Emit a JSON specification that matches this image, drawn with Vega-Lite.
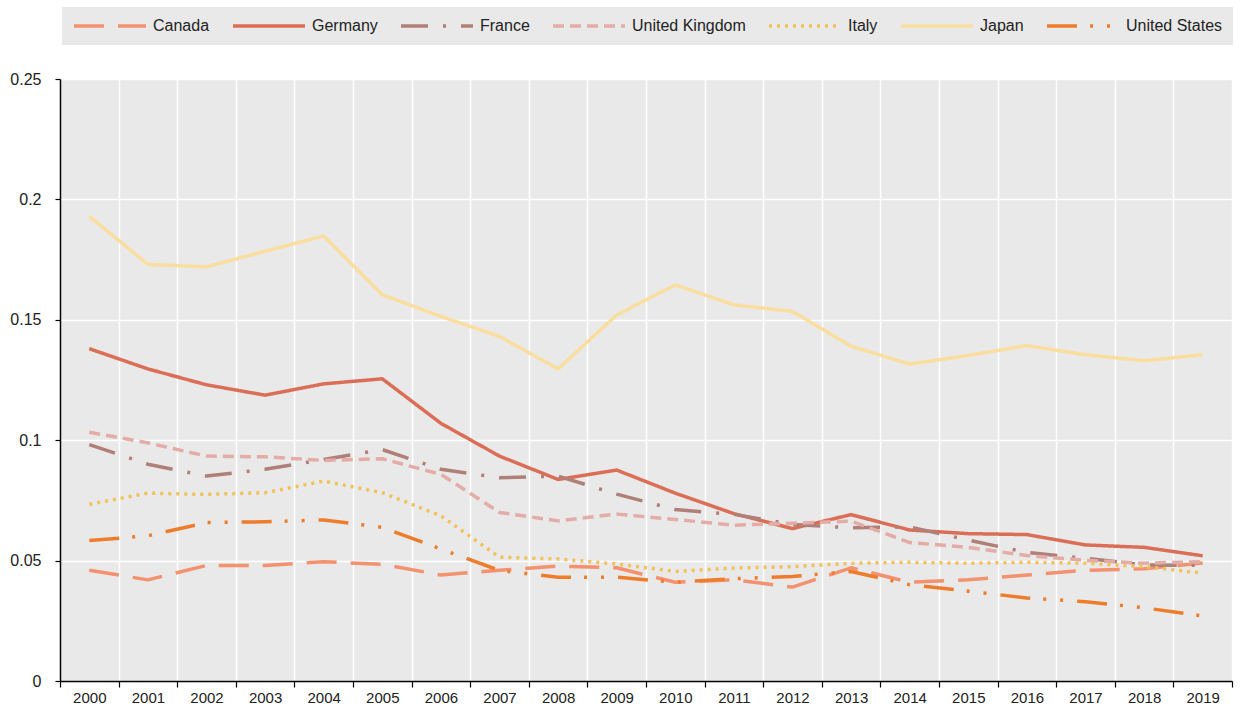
{
  "$schema": "https://vega.github.io/schema/vega-lite/v6.json",
  "width": 1172,
  "height": 602,
  "autosize": "none",
  "padding": {"left": 60, "top": 79, "right": 10, "bottom": 29},
  "background": "white",
  "config": {
    "view": {"fill": "#e9e9e9", "stroke": null},
    "font": "Liberation Sans",
    "axis": {"labelFont": "Liberation Sans", "labelColor": "#222222", "labelFontSize": 15, "gridColor": "#ffffff", "gridWidth": 1.5, "domainColor": "#000000", "domainWidth": 1.5, "tickColor": "#000000", "tickWidth": 1.2, "title": null}
  },
  "data": {"values": [
    {"year":"2000","country":"Canada","value":0.046},{"year":"2001","country":"Canada","value":0.042},{"year":"2002","country":"Canada","value":0.048},{"year":"2003","country":"Canada","value":0.048},{"year":"2004","country":"Canada","value":0.0495},{"year":"2005","country":"Canada","value":0.0485},{"year":"2006","country":"Canada","value":0.044},{"year":"2007","country":"Canada","value":0.046},{"year":"2008","country":"Canada","value":0.0477},{"year":"2009","country":"Canada","value":0.047},{"year":"2010","country":"Canada","value":0.041},{"year":"2011","country":"Canada","value":0.042},{"year":"2012","country":"Canada","value":0.039},{"year":"2013","country":"Canada","value":0.047},{"year":"2014","country":"Canada","value":0.041},{"year":"2015","country":"Canada","value":0.042},{"year":"2016","country":"Canada","value":0.044},{"year":"2017","country":"Canada","value":0.046},{"year":"2018","country":"Canada","value":0.0466},{"year":"2019","country":"Canada","value":0.049},
    {"year":"2000","country":"Germany","value":0.138},{"year":"2001","country":"Germany","value":0.1296},{"year":"2002","country":"Germany","value":0.123},{"year":"2003","country":"Germany","value":0.1187},{"year":"2004","country":"Germany","value":0.1234},{"year":"2005","country":"Germany","value":0.1255},{"year":"2006","country":"Germany","value":0.107},{"year":"2007","country":"Germany","value":0.0934},{"year":"2008","country":"Germany","value":0.0837},{"year":"2009","country":"Germany","value":0.0876},{"year":"2010","country":"Germany","value":0.078},{"year":"2011","country":"Germany","value":0.0695},{"year":"2012","country":"Germany","value":0.0633},{"year":"2013","country":"Germany","value":0.0691},{"year":"2014","country":"Germany","value":0.0627},{"year":"2015","country":"Germany","value":0.0612},{"year":"2016","country":"Germany","value":0.0608},{"year":"2017","country":"Germany","value":0.0565},{"year":"2018","country":"Germany","value":0.0555},{"year":"2019","country":"Germany","value":0.052},
    {"year":"2000","country":"France","value":0.0982},{"year":"2001","country":"France","value":0.09},{"year":"2002","country":"France","value":0.0851},{"year":"2003","country":"France","value":0.0879},{"year":"2004","country":"France","value":0.092},{"year":"2005","country":"France","value":0.0961},{"year":"2006","country":"France","value":0.0879},{"year":"2007","country":"France","value":0.0844},{"year":"2008","country":"France","value":0.0851},{"year":"2009","country":"France","value":0.0776},{"year":"2010","country":"France","value":0.0712},{"year":"2011","country":"France","value":0.0692},{"year":"2012","country":"France","value":0.065},{"year":"2013","country":"France","value":0.0636},{"year":"2014","country":"France","value":0.064},{"year":"2015","country":"France","value":0.0585},{"year":"2016","country":"France","value":0.0534},{"year":"2017","country":"France","value":0.051},{"year":"2018","country":"France","value":0.0482},{"year":"2019","country":"France","value":0.048},
    {"year":"2000","country":"United Kingdom","value":0.1033},{"year":"2001","country":"United Kingdom","value":0.0989},{"year":"2002","country":"United Kingdom","value":0.0934},{"year":"2003","country":"United Kingdom","value":0.0931},{"year":"2004","country":"United Kingdom","value":0.0916},{"year":"2005","country":"United Kingdom","value":0.0923},{"year":"2006","country":"United Kingdom","value":0.0858},{"year":"2007","country":"United Kingdom","value":0.07},{"year":"2008","country":"United Kingdom","value":0.0665},{"year":"2009","country":"United Kingdom","value":0.0693},{"year":"2010","country":"United Kingdom","value":0.0671},{"year":"2011","country":"United Kingdom","value":0.0647},{"year":"2012","country":"United Kingdom","value":0.0655},{"year":"2013","country":"United Kingdom","value":0.0664},{"year":"2014","country":"United Kingdom","value":0.0575},{"year":"2015","country":"United Kingdom","value":0.0555},{"year":"2016","country":"United Kingdom","value":0.0521},{"year":"2017","country":"United Kingdom","value":0.0501},{"year":"2018","country":"United Kingdom","value":0.0489},{"year":"2019","country":"United Kingdom","value":0.0496},
    {"year":"2000","country":"Italy","value":0.0734},{"year":"2001","country":"Italy","value":0.078},{"year":"2002","country":"Italy","value":0.0775},{"year":"2003","country":"Italy","value":0.0782},{"year":"2004","country":"Italy","value":0.083},{"year":"2005","country":"Italy","value":0.0782},{"year":"2006","country":"Italy","value":0.0686},{"year":"2007","country":"Italy","value":0.0514},{"year":"2008","country":"Italy","value":0.0507},{"year":"2009","country":"Italy","value":0.0486},{"year":"2010","country":"Italy","value":0.0455},{"year":"2011","country":"Italy","value":0.0469},{"year":"2012","country":"Italy","value":0.0475},{"year":"2013","country":"Italy","value":0.0489},{"year":"2014","country":"Italy","value":0.0493},{"year":"2015","country":"Italy","value":0.0489},{"year":"2016","country":"Italy","value":0.0493},{"year":"2017","country":"Italy","value":0.0489},{"year":"2018","country":"Italy","value":0.0475},{"year":"2019","country":"Italy","value":0.0448},
    {"year":"2000","country":"Japan","value":0.193},{"year":"2001","country":"Japan","value":0.173},{"year":"2002","country":"Japan","value":0.172},{"year":"2003","country":"Japan","value":0.1785},{"year":"2004","country":"Japan","value":0.1848},{"year":"2005","country":"Japan","value":0.1604},{"year":"2006","country":"Japan","value":0.1514},{"year":"2007","country":"Japan","value":0.1431},{"year":"2008","country":"Japan","value":0.1296},{"year":"2009","country":"Japan","value":0.152},{"year":"2010","country":"Japan","value":0.1645},{"year":"2011","country":"Japan","value":0.1562},{"year":"2012","country":"Japan","value":0.1535},{"year":"2013","country":"Japan","value":0.139},{"year":"2014","country":"Japan","value":0.1316},{"year":"2015","country":"Japan","value":0.1352},{"year":"2016","country":"Japan","value":0.1393},{"year":"2017","country":"Japan","value":0.1355},{"year":"2018","country":"Japan","value":0.133},{"year":"2019","country":"Japan","value":0.1355},
    {"year":"2000","country":"United States","value":0.0583},{"year":"2001","country":"United States","value":0.0603},{"year":"2002","country":"United States","value":0.0658},{"year":"2003","country":"United States","value":0.0661},{"year":"2004","country":"United States","value":0.0669},{"year":"2005","country":"United States","value":0.0638},{"year":"2006","country":"United States","value":0.0548},{"year":"2007","country":"United States","value":0.0459},{"year":"2008","country":"United States","value":0.0431},{"year":"2009","country":"United States","value":0.0431},{"year":"2010","country":"United States","value":0.041},{"year":"2011","country":"United States","value":0.0425},{"year":"2012","country":"United States","value":0.0434},{"year":"2013","country":"United States","value":0.0455},{"year":"2014","country":"United States","value":0.04},{"year":"2015","country":"United States","value":0.0373},{"year":"2016","country":"United States","value":0.0345},{"year":"2017","country":"United States","value":0.0329},{"year":"2018","country":"United States","value":0.0304},{"year":"2019","country":"United States","value":0.027}
  ]},
  "mark": {"type": "line", "strokeWidth": 3.5, "strokeCap": "butt", "strokeJoin": "round"},
  "encoding": {
    "x": {"field": "year", "type": "ordinal", "bandPosition": 0.5,
      "scale": {"type": "band", "paddingInner": 0, "paddingOuter": 0},
      "axis": {"tickBand": "extent", "labelAngle": 0, "tickSize": 6, "labelPadding": 3, "grid": true}},
    "y": {"field": "value", "type": "quantitative",
      "scale": {"domain": [0, 0.25], "nice": false},
      "axis": {"values": [0, 0.05, 0.1, 0.15, 0.2, 0.25], "format": ".2~f", "tickSize": 5, "labelPadding": 14, "labelFontSize": 16, "grid": true}},
    "color": {"field": "country", "type": "nominal",
      "scale": {"domain": ["Canada", "Germany", "France", "United Kingdom", "Italy", "Japan", "United States"],
        "range": ["#F4916F", "#DB6E56", "#B07F78", "#E4ACA6", "#F1C15B", "#F9DE9F", "#EE7D2B"]},
      "legend": {"title": null, "orient": "none", "legendX": 2, "legendY": -72, "direction": "horizontal",
        "fillColor": "#e9e9e9", "padding": 10, "clipHeight": 18, "symbolType": "stroke", "symbolSize": 5184, "symbolStrokeWidth": 3.5,
        "labelFontSize": 16, "labelColor": "#222222", "labelOffset": 5, "columnPadding": 21, "labelLimit": 300}},
    "strokeDash": {"field": "country", "type": "nominal",
      "scale": {"domain": ["Canada", "Germany", "France", "United Kingdom", "Italy", "Japan", "United States"],
        "range": [[30, 14], [1, 0], [27, 15, 3, 15], [11, 6], [3, 5], [1, 0], [30, 13, 3, 14, 3, 14]]},
      "legend": {"title": null, "orient": "none", "legendX": 2, "legendY": -72, "direction": "horizontal",
        "fillColor": "#e9e9e9", "padding": 10, "clipHeight": 18, "symbolType": "stroke", "symbolSize": 5184, "symbolStrokeWidth": 3.5,
        "labelFontSize": 16, "labelColor": "#222222", "labelOffset": 5, "columnPadding": 21, "labelLimit": 300}}
  }
}
